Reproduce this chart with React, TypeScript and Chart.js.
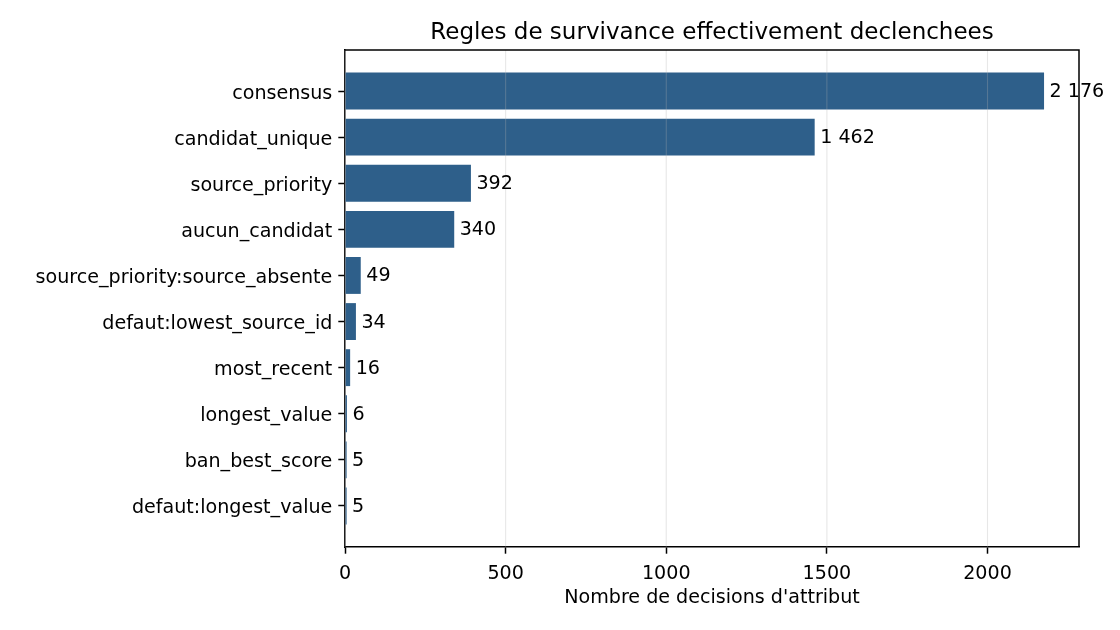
import React, { useEffect, useRef } from "react";
import { Chart, registerables } from "chart.js";

Chart.register(...registerables);

const categories = [
  "consensus",
  "candidat_unique",
  "source_priority",
  "aucun_candidat",
  "source_priority:source_absente",
  "defaut:lowest_source_id",
  "most_recent",
  "longest_value",
  "ban_best_score",
  "defaut:longest_value",
];
const counts = [2176, 1462, 392, 340, 49, 34, 16, 6, 5, 5];
const xTicks = [0, 500, 1000, 1500, 2000];

const FONT = "'DejaVu Sans', sans-serif";
const BAR = "#2e5f8a";
const SMALL = 19.1;
const BIG = 23;

const fmt = (v: number) => String(v).replace(/\B(?=(\d{3})+(?!\d))/g, " ");

// gridlines, top/right spines and value labels go over the bars
const overlay = {
  id: "overlay",
  afterDatasetsDraw(chart: any) {
    const { ctx, chartArea } = chart;
    const xs = chart.scales.x;
    ctx.save();
    ctx.strokeStyle = "rgba(176,176,176,0.3)";
    ctx.lineWidth = 1.1;
    xTicks.forEach((t) => {
      const px = xs.getPixelForValue(t);
      ctx.beginPath();
      ctx.moveTo(px, chartArea.top);
      ctx.lineTo(px, chartArea.bottom);
      ctx.stroke();
    });
    ctx.strokeStyle = "#000";
    ctx.lineWidth = 1.5;
    ctx.beginPath();
    ctx.moveTo(chartArea.left, chartArea.top);
    ctx.lineTo(chartArea.right, chartArea.top);
    ctx.lineTo(chartArea.right, chartArea.bottom);
    ctx.stroke();

    ctx.fillStyle = "#000";
    ctx.font = `${SMALL}px ${FONT}`;
    ctx.textAlign = "left";
    ctx.textBaseline = "middle";
    const meta = chart.getDatasetMeta(0);
    meta.data.forEach((bar: any, i: number) => {
      ctx.fillText(fmt(counts[i]), bar.x + 5.5, bar.y + 1);
    });
    ctx.restore();
  },
};

const App: React.FC = () => {
  const chartRef = useRef<Chart>();
  const canvasRef = useRef<HTMLCanvasElement>(null);

  useEffect(() => {
    document.body.style.margin = "0";
    const canvas = canvasRef.current;
    if (!canvas) {
      return;
    }
    const ctx = canvas.getContext("2d");
    if (!ctx) {
      return;
    }

    chartRef.current = new Chart(ctx, {
      type: "bar",
      data: {
        datasets: [
          {
            data: counts.map((c, i) => ({ x: c, y: i })),
            backgroundColor: BAR,
            borderColor: BAR,
            borderWidth: 0,
            barPercentage: 1,
            categoryPercentage: 0.8,
          },
        ],
      },
      plugins: [overlay],
      options: {
        indexAxis: "y",
        responsive: false,
        animation: false,
        layout: { padding: { right: 41, left: 0, top: 0, bottom: 0 } },
        plugins: {
          legend: { display: false },
          tooltip: { enabled: false },
          title: {
            display: true,
            fullSize: false,
            text: "Regles de survivance effectivement declenchees",
            color: "#000",
            font: { family: FONT, size: BIG, weight: "normal" },
            padding: { top: 19, bottom: 3.4 },
          },
        },
        scales: {
          x: {
            type: "linear",
            min: 0,
            max: 2284.8,
            offset: false,
            afterFit: (s: any) => {
              s.height = 83;
            },
            afterBuildTicks: (s: any) => {
              s.ticks = xTicks.map((v) => ({ value: v }));
            },
            grid: {
              drawOnChartArea: false,
              drawTicks: true,
              offset: false,
              tickLength: 6.7,
              tickWidth: 1.5,
              tickColor: "#000",
            },
            border: { display: true, color: "#000", width: 1.5 },
            ticks: {
              color: "#000",
              padding: 9,
              font: { family: FONT, size: SMALL },
              maxRotation: 0,
              callback: (v: any) => String(v),
            },
            title: {
              display: true,
              text: "Nombre de decisions d'attribut",
              color: "#000",
              font: { family: FONT, size: SMALL },
              padding: { top: 0, bottom: 21 },
            },
          },
          y: {
            type: "linear",
            reverse: true,
            min: -0.89,
            max: 9.89,
            offset: false,
            afterFit: (s: any) => {
              s.width = 345;
            },
            afterBuildTicks: (s: any) => {
              s.ticks = categories.map((_, i) => ({ value: i }));
            },
            grid: {
              drawOnChartArea: false,
              drawTicks: true,
              offset: false,
              tickLength: 6.7,
              tickWidth: 1.5,
              tickColor: "#000",
            },
            border: { display: true, color: "#000", width: 1.5 },
            ticks: {
              color: "#000",
              padding: 6,
              labelOffset: 2.5,
              autoSkip: false,
              font: { family: FONT, size: SMALL },
              callback: (v: any) => categories[v] ?? "",
            },
          },
        },
      },
    });

    return () => {
      if (chartRef.current) {
        chartRef.current.destroy();
      }
    };
  }, []);

  return (
    <div style={{ width: 1120, height: 630 }}>
      <canvas ref={canvasRef} width={1120} height={630} />
    </div>
  );
};

export default App;
